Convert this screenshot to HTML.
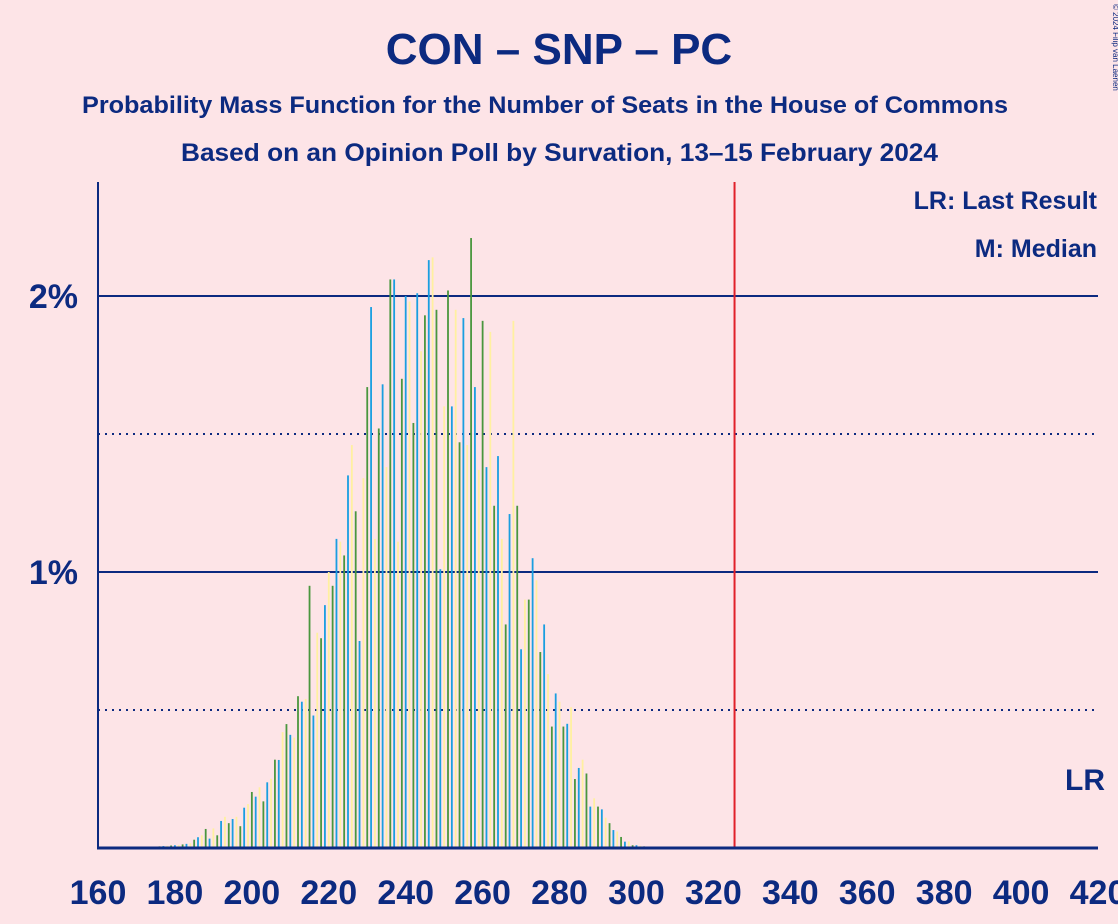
<!DOCTYPE html>
<html><head><meta charset="utf-8"><style>
html,body{margin:0;padding:0;background:#fde4e7;}
svg{display:block;font-family:"Liberation Sans",sans-serif;}
</style></head><body>
<svg width="1118" height="924" viewBox="0 0 1118 924">
<rect width="1118" height="924" fill="#fde4e7"/>
<text x="559" y="64" text-anchor="middle" font-size="44" font-weight="bold" fill="#0c2a80">CON – SNP – PC</text>
<text x="82" y="113" textLength="926" lengthAdjust="spacingAndGlyphs" font-size="24" font-weight="bold" fill="#0c2a80">Probability Mass Function for the Number of Seats in the House of Commons</text>
<text x="181" y="161" textLength="757" lengthAdjust="spacingAndGlyphs" font-size="25" font-weight="bold" fill="#0c2a80">Based on an Opinion Poll by Survation, 13–15 February 2024</text>
<text x="1113" y="4" font-size="8" fill="#0c2a80" transform="rotate(90 1113 4)">© 2024 Filip van Laenen</text>
<g id="grid"></g>
<g id="bars"></g>
<g id="axes"></g>
<text x="1097" y="209" text-anchor="end" font-size="25" font-weight="bold" fill="#0c2a80">LR: Last Result</text>
<text x="1097" y="257" text-anchor="end" font-size="25" font-weight="bold" fill="#0c2a80">M: Median</text>
<text x="1105" y="790" text-anchor="end" font-size="30" font-weight="bold" fill="#0c2a80">LR</text>
</svg>
<script>
const seats = [];
for (let s = 165; s <= 310; s++) seats.push(s);
const probs = [
0.001,0.001,0.001,0.002,0.002,0.002,0.003,0.003,0.004,0.005,0.005,0.006,0.007,0.008,0.009,0.01,0.011,0.013,0.015,
0.017,0.03,0.039,0.046,0.069,0.034,0.071,0.046,0.098,0.113,0.09,0.105,0.113,0.079,0.146,0.159,
0.203,0.186,0.22,0.169,0.238,0.251,0.32,0.319,0.42,0.449,
0.41,0.40,0.55,0.53,0.54,0.95,0.48,0.78,0.76,0.88,1.00,0.95,1.12,1.11,1.06,1.35,1.46,1.22,0.75,1.34,
1.67,1.96,1.12,1.52,1.68,1.38,2.06,2.06,1.11,1.70,
2.00,1.98,1.54,2.01,1.80,1.93,2.13,2.14,1.95,1.01,1.60,2.02,1.60,1.95,1.47,1.92,1.46,2.21,1.67,1.37,
1.91,1.38,1.87,1.24,1.42,1.12,0.81,1.21,1.91,1.24,
0.72,0.90,0.90,1.05,0.97,0.71,0.81,0.63,0.44,0.56,0.53,0.44,0.45,0.51,0.25,0.29,0.32,0.27,0.15,0.18,
0.15,0.14,0.11,0.09,0.065,0.06,0.04,0.023,0.024,0.01,0.01,
0.008,0.006,0.005,0.004,0.003,0.002,0.002,0.001,0.001,0.001
];
const xTicks = [160,180,200,220,240,260,280,300,320,340,360,380,400,420];
const yGrid = [0.5,1,1.5,2];
const yLabels = ["1%","2%"];
const yLabelVals = [1,2];
const majority = 325.5;

const NS = "http://www.w3.org/2000/svg";
const xScale = s => 98 + (s - 160) * (1000 / 260);
const yScale = v => 848 - v * 276;
const colors = ["#1a9ee0", "#fff0a0", "#4a963e"];
function mk(tag, attrs, parent) {
  const e = document.createElementNS(NS, tag);
  for (const k in attrs) e.setAttribute(k, attrs[k]);
  parent.appendChild(e);
  return e;
}
const grid = document.getElementById("grid");
const bars = document.getElementById("bars");
const axes = document.getElementById("axes");

yGrid.forEach(v => {
  const solid = Number.isInteger(v);
  const l = mk("line", {x1: 98, x2: 1098, y1: yScale(v), y2: yScale(v), stroke: "#0c2a80",
    "stroke-width": 2, "stroke-dasharray": solid ? "none" : "2,5"}, grid);
  
  
});
yLabelVals.forEach((v, i) => {
  const t = mk("text", {x: 78, y: yScale(v) + 12, "text-anchor": "end", "font-size": 34, "font-weight": "bold", fill: "#0c2a80"}, axes);
  t.textContent = yLabels[i];
  
  
});

seats.forEach((s, i) => {
  const v = probs[i];
  if (v === undefined) return;
  const r = mk("rect", {x: xScale(s) - 0.9, y: yScale(v), width: 1.8, height: v * 276, fill: colors[s % 3]}, bars);
  
  
});

const ml = mk("line", {x1: xScale(majority), x2: xScale(majority), y1: 182, y2: 848, stroke: "#e0202a", "stroke-width": 2}, axes);



const ya = mk("line", {x1: 98, x2: 98, y1: 182, y2: 849, stroke: "#0c2a80", "stroke-width": 2}, axes);


const xa = mk("line", {x1: 97, x2: 1098, y1: 848, y2: 848, stroke: "#0c2a80", "stroke-width": 3}, axes);



xTicks.forEach(t => {
  const e = mk("text", {x: xScale(t), y: 904, "text-anchor": "middle", "font-size": 34, "font-weight": "bold", fill: "#0c2a80"}, axes);
  e.textContent = t;
  
  
});
</script>
</body></html>
